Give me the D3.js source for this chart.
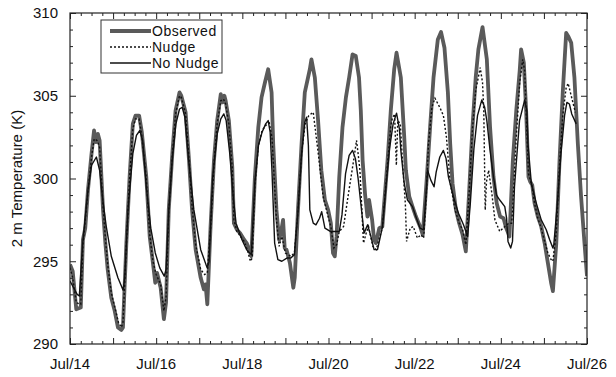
<!DOCTYPE html>
<html>
<head>
<meta charset="utf-8">
<script src="https://cdn.jsdelivr.net/npm/d3@7"></script>
<style>
  body { margin: 0; background: #fff; }
  text { font-family: "Liberation Sans", Arial, Helvetica, sans-serif; fill: #111; }
</style>
</head>
<body>
<div id="chart"></div>
<script>
// hours since Jul/14 00:00 and 2 m temperature (K)
const obsHours = [0,1.5,3.5,6,7.2,8.5,10,12,13.4,14.5,15.5,16.5,18.4,19.7,21,23,24.9,26.7,28.6,29.5,31.4,33.2,35,36.5,38.5,40,42.5,44.4,46.2,47.5,48.5,50.5,52.3,53.5,55,57,58.8,61,62,64.4,66.3,68,70,72.8,74.6,75.5,76.5,78.3,80.2,82,84,85,86,86.7,88.5,90.4,91.3,93,94.7,97,98.4,99.5,101,103,104.9,106.7,108.6,110.4,112.3,113.2,114.1,115,116.5,117.6,118.7,119.6,120.6,122.5,124.4,125.2,127,129,130.8,133.6,134.5,136.4,138.2,140,142,143.8,145.3,146.5,147.5,148.5,150,151.8,153.7,155.5,157.4,159.2,161,162,163,164.4,165.7,166.6,168.3,169.4,170.4,172.3,174,176.9,178.7,180.6,181.9,184.3,186.2,187.1,189,190.8,192.7,195,196.5,198.8,200.6,202.5,204.9,206.7,208.6,210.5,211.8,213.1,215,216.8,218.7,220.5,222.3,224.2,226,227.5,229.8,232.2,234,235.9,237.7,239.6,241.5,243,244.8,246.7,248.6,250.5,251.3,252.8,254.1,255.4,256.4,257.5,258.8,260.6,262.5,264.4,266.2,268,269,270.9,272.7,274.5,276.4,277.5,279.2,281,282.9,284.7,286.6,288];
const obsTemp = [294.8,294.4,292.1,292.2,296.3,297.0,299.3,301.5,302.9,302.2,302.7,302.3,298.1,296.1,294.5,292.8,292.0,291.0,290.85,291.0,296.1,300.1,303.3,303.8,303.8,302.8,300.1,296.5,294.9,293.7,294.3,293.4,291.5,292.5,298.1,301.5,304.1,305.2,305.0,304.0,301.1,298.1,295.7,294.0,293.3,293.6,292.4,297.1,301.1,303.5,305.1,304.6,305.0,304.7,303.5,300.7,297.3,296.9,296.7,296.3,296.1,295.8,295.3,300.1,303.1,304.9,305.8,306.6,305.2,302.1,300.1,298.1,296.3,296.8,297.5,295.8,295.7,294.9,293.4,294.0,298.1,302.1,305.2,306.6,307.2,306.1,303.5,300.5,298.7,298.1,297.3,295.5,295.3,296.5,300.1,303.1,304.9,306.1,307.5,307.4,306.1,304.1,301.1,299.0,297.7,298.7,297.5,296.3,296.1,297.0,297.1,301.1,304.1,306.6,307.6,306.1,302.5,300.5,298.9,298.3,297.7,297.1,296.6,300.1,303.1,306.1,308.4,308.85,307.9,305.2,302.1,299.7,298.1,297.3,296.6,295.6,299.1,303.1,306.1,307.8,309.15,307.2,303.1,300.1,298.5,297.7,297.6,297.0,296.5,301.1,304.1,306.5,307.8,307.0,304.1,300.1,299.8,299.6,298.5,297.7,297.1,296.1,294.9,293.7,293.2,296.1,301.1,305.2,308.8,308.6,308.2,306.1,302.1,298.9,296.1,294.1];

const nudgeHours = [0,1.5,3.5,6,7.2,10,12,13.5,15,16.5,18.4,19.7,21,23,25,27,28.6,29.5,31.4,33.2,35,36.5,38.5,40,42.5,44.4,46.2,48,50.5,52.3,53.5,55,57,58.8,61,62,64.4,66.3,68,70,72.8,75,76.5,78.3,80.2,82,84,85.5,86.7,88.5,90.4,91.3,93,95,97,99,100.5,101.5,103,105,107,109,111,112.5,113.5,115,116.5,118,120,123,125,127,129,131,133,135.5,138.3,141,143.8,145.3,147,148.5,150,152.4,155,158,159.6,160.5,161.5,163.5,165,166.3,168.7,170.6,172.3,174,176.9,178.7,179.5,180.8,181.8,182.6,184,185.5,186.8,187.5,189.5,191.2,193.5,195.5,197,198.5,199.7,201.6,203.3,205,206,208,209.7,211.7,214.5,216.8,218.7,220.5,222.3,224.2,226,228.5,229.8,230.5,231.3,232,233.2,235,236.7,239.4,242.2,244.5,246,246.5,248.6,250.5,252.2,253.3,254.1,255.4,257.5,258.8,260.6,262.5,264.4,266.2,268,269,270.9,272.7,274.5,276.4,277.5,279.2,281.5];
const nudgeTemp = [294.6,294.0,292.5,292.4,296.0,299.2,301.3,302.4,302.3,301.9,298.3,296.4,294.8,293.1,292.2,291.3,291.0,291.3,296.0,300.0,303.0,303.6,303.6,302.6,300.0,296.6,295.0,294.2,293.6,292.0,292.8,298.0,301.4,303.9,305.0,304.9,303.9,301.2,298.3,296.0,294.5,294.2,294.3,297.0,300.9,303.3,304.7,304.8,304.5,303.3,300.6,297.5,296.8,296.5,296.2,295.6,295.0,295.2,299.6,302.0,302.9,303.2,303.35,302.5,300.5,297.5,295.9,296.5,295.5,295.3,295.5,298.0,301.5,303.3,303.8,304.0,301.5,298.9,297.7,297.1,295.8,296.0,296.8,297.1,299.0,301.1,302.3,301.5,300.5,296.1,296.7,297.1,295.9,295.7,296.4,297.0,300.9,303.2,303.6,303.9,300.8,303.5,303.3,300.5,298.5,296.2,297.0,297.1,296.4,296.6,296.4,299.0,302.1,304.3,304.85,304.5,304.3,303.8,302.5,299.8,298.1,297.3,296.9,296.0,299.0,303.0,305.3,306.7,305.8,304.1,298.1,299.8,300.5,299.1,297.5,296.8,297.1,297.3,297.3,298.0,302.5,305.8,307.2,306.5,304.0,300.3,299.5,298.5,297.6,297.0,296.2,295.5,295.1,295.0,296.8,300.8,303.8,305.5,305.75,305.0,304.0];

const noNudgeHours = [0,2,4,5.2,7,10,12,14.7,16.5,18.5,20.2,23,26.7,29.6,30.5,32.3,35,37,38.9,40.5,42.5,45,47.5,50,52.5,53.5,55,57,59,61,62.5,64,66,69,72.8,76.4,77.5,79.5,82,84,85.7,87,89,91,92.5,95.8,98.4,101,103,105,107,109,110.4,111.5,112.5,114,115.8,118,121,123,125,127,129,130.8,131.8,132.8,133.6,135.5,137,139,140.2,142,145,150,151.5,153.5,155.5,157.4,159,160.5,162,163.8,165.8,167.6,169.4,171.3,174.1,176,178,180,181.9,183.5,184.3,186.2,188,190.8,193,195,197,199.2,201,202.8,204,206,208,209.5,210.8,213.6,216.4,219.2,221.5,223,225,227,229.4,231,232.2,234,235.9,237.6,239.4,242.2,243.2,244,245.5,246.5,247.6,250.4,253.3,254.5,255.1,257,259.8,262.5,265.3,267.2,269,269.5,271.5,273.5,275.5,276.8,278.2,279.5,282];
const noNudgeTemp = [293.8,293.4,293.0,292.9,296.0,299.3,300.8,301.3,300.5,298.5,297.1,295.3,294.0,293.25,294.0,298.1,301.5,302.6,302.9,302.3,299.5,297.0,295.5,294.6,294.1,294.5,298.0,301.2,303.3,304.2,304.3,303.7,301.2,298.1,295.7,294.6,295.0,300.1,302.7,303.6,303.9,303.5,301.5,298.8,297.3,296.3,295.7,295.4,299.8,302.0,302.8,303.3,303.5,302.8,300.5,296.1,295.1,295.0,295.2,295.2,295.4,298.0,301.5,303.4,303.7,302.0,298.1,297.3,297.2,297.6,298.0,297.0,296.8,296.8,297.8,300.3,301.4,301.7,301.2,300.0,298.5,296.7,297.2,296.5,295.7,295.7,297.1,299.5,301.8,303.3,303.95,303.0,301.7,299.7,298.7,298.3,297.6,297.0,296.9,300.5,299.9,299.5,300.4,301.3,301.7,301.2,300.1,298.9,297.9,297.2,296.5,298.5,301.8,303.8,304.75,304.3,303.5,301.7,300.1,299.0,298.7,298.3,297.6,296.2,295.8,296.2,299.5,303.5,304.75,304.1,302.1,299.7,298.5,297.5,296.9,296.3,295.8,296.0,298.5,301.5,303.8,304.6,304.5,303.9,303.3];

const xTickHours = [0, 48, 96, 144, 192, 240, 288];
const xTickLabels = ['Jul/14', 'Jul/16', 'Jul/18', 'Jul/20', 'Jul/22', 'Jul/24', 'Jul/26'];
const yTicks = [290, 295, 300, 305, 310];
const seriesNames = ['Observed', 'Nudge', 'No Nudge'];

const width = 616, height = 377;
const plotLeft = 70, plotRight = 587, plotTop = 13, plotBottom = 344;

const svg = d3.select('#chart').append('svg')
  .attr('width', width)
  .attr('height', height);

const x = d3.scaleLinear().domain([0, 288]).range([plotLeft, plotRight]);
const y = d3.scaleLinear().domain([290, 310]).range([plotBottom, plotTop]);

svg.append('clipPath').attr('id', 'clip')
  .append('rect')
  .attr('x', plotLeft).attr('y', plotTop)
  .attr('width', plotRight - plotLeft).attr('height', plotBottom - plotTop);

const line = (hours, temps) => d3.line()
  .x((d, i) => x(hours[i]))
  .y(d => y(d))(temps);

const lines = svg.append('g').attr('clip-path', 'url(#clip)');

const obsColor = '#5a5a5a';

lines.append('path')
  .attr('d', line(obsHours, obsTemp))
  .attr('fill', 'none')
  .attr('stroke', obsColor)
  .attr('stroke-width', 3.8)
  .attr('stroke-linejoin', 'round');

lines.append('path')
  .attr('d', line(nudgeHours, nudgeTemp))
  .attr('fill', 'none')
  .attr('stroke', '#111')
  .attr('stroke-width', 1.4)
  .attr('stroke-dasharray', '2,2');

lines.append('path')
  .attr('d', line(noNudgeHours, noNudgeTemp))
  .attr('fill', 'none')
  .attr('stroke', '#111')
  .attr('stroke-width', 1.4)
  .attr('stroke-linejoin', 'round');

// axes: ticks every 6 h / 1 K, longer every day / 5 K, all pointing inward
const minorX = d3.range(0, 289, 6).filter(h => h % 24 !== 0);
const majorX = d3.range(0, 289, 24);
const minorY = d3.range(290, 311).filter(t => t % 5 !== 0);

const axisStyle = g => {
  g.select('.domain').remove();
  g.selectAll('line').attr('stroke', '#222').attr('stroke-width', 1);
};

svg.append('g').attr('transform', `translate(0,${plotBottom})`)
  .call(d3.axisTop(x).tickValues(minorX).tickSize(3).tickFormat(''))
  .call(axisStyle);
svg.append('g').attr('transform', `translate(0,${plotBottom})`)
  .call(d3.axisTop(x).tickValues(majorX).tickSize(6).tickFormat(''))
  .call(axisStyle);
svg.append('g').attr('transform', `translate(0,${plotTop})`)
  .call(d3.axisBottom(x).tickValues(minorX).tickSize(3).tickFormat(''))
  .call(axisStyle);
svg.append('g').attr('transform', `translate(0,${plotTop})`)
  .call(d3.axisBottom(x).tickValues(majorX).tickSize(6).tickFormat(''))
  .call(axisStyle);

[[plotLeft, d3.axisRight], [plotRight, d3.axisLeft]].forEach(([pos, ax]) => {
  svg.append('g').attr('transform', `translate(${pos},0)`)
    .call(ax(y).tickValues(minorY).tickSize(3).tickFormat(''))
    .call(axisStyle);
  svg.append('g').attr('transform', `translate(${pos},0)`)
    .call(ax(y).tickValues(yTicks).tickSize(6).tickFormat(''))
    .call(axisStyle);
});

svg.append('rect')
  .attr('x', plotLeft).attr('y', plotTop)
  .attr('width', plotRight - plotLeft).attr('height', plotBottom - plotTop)
  .attr('fill', 'none').attr('stroke', '#222').attr('stroke-width', 1.2);

// tick labels
svg.selectAll('text.ylab')
  .data(yTicks)
  .enter().append('text')
  .attr('class', 'ylab')
  .attr('x', plotLeft - 12)
  .attr('y', d => y(d))
  .attr('dy', '0.35em')
  .attr('text-anchor', 'end')
  .style('font-size', '15px')
  .text(d => d);

svg.selectAll('text.xlab')
  .data(xTickHours)
  .enter().append('text')
  .attr('class', 'xlab')
  .attr('x', d => x(d))
  .attr('y', 369)
  .attr('text-anchor', 'middle')
  .style('font-size', '15px')
  .text((d, i) => xTickLabels[i]);

svg.append('text')
  .attr('transform', `translate(22,${(plotTop + plotBottom) / 2}) rotate(-90)`)
  .attr('text-anchor', 'middle')
  .style('font-size', '15px')
  .text('2 m Temperature (K)');

// legend
const legend = svg.append('g');
legend.append('rect')
  .attr('x', 101).attr('y', 20)
  .attr('width', 121).attr('height', 53)
  .attr('fill', '#fff').attr('stroke', '#333').attr('stroke-width', 1);

const legendStyles = [
  { stroke: obsColor, width: 3.8, dash: null },
  { stroke: '#111', width: 1.4, dash: '2,2' },
  { stroke: '#111', width: 1.4, dash: null }
];

seriesNames.forEach((name, i) => {
  const ly = 31 + i * 16;
  legend.append('line')
    .attr('x1', 110).attr('x2', 151)
    .attr('y1', ly).attr('y2', ly)
    .attr('stroke', legendStyles[i].stroke)
    .attr('stroke-width', legendStyles[i].width)
    .attr('stroke-dasharray', legendStyles[i].dash);
  legend.append('text')
    .attr('x', 152)
    .attr('y', ly)
    .attr('dy', '0.35em')
    .style('font-size', '14px')
    .style('letter-spacing', '0.5px')
    .text(name);
});
</script>
</body>
</html>
